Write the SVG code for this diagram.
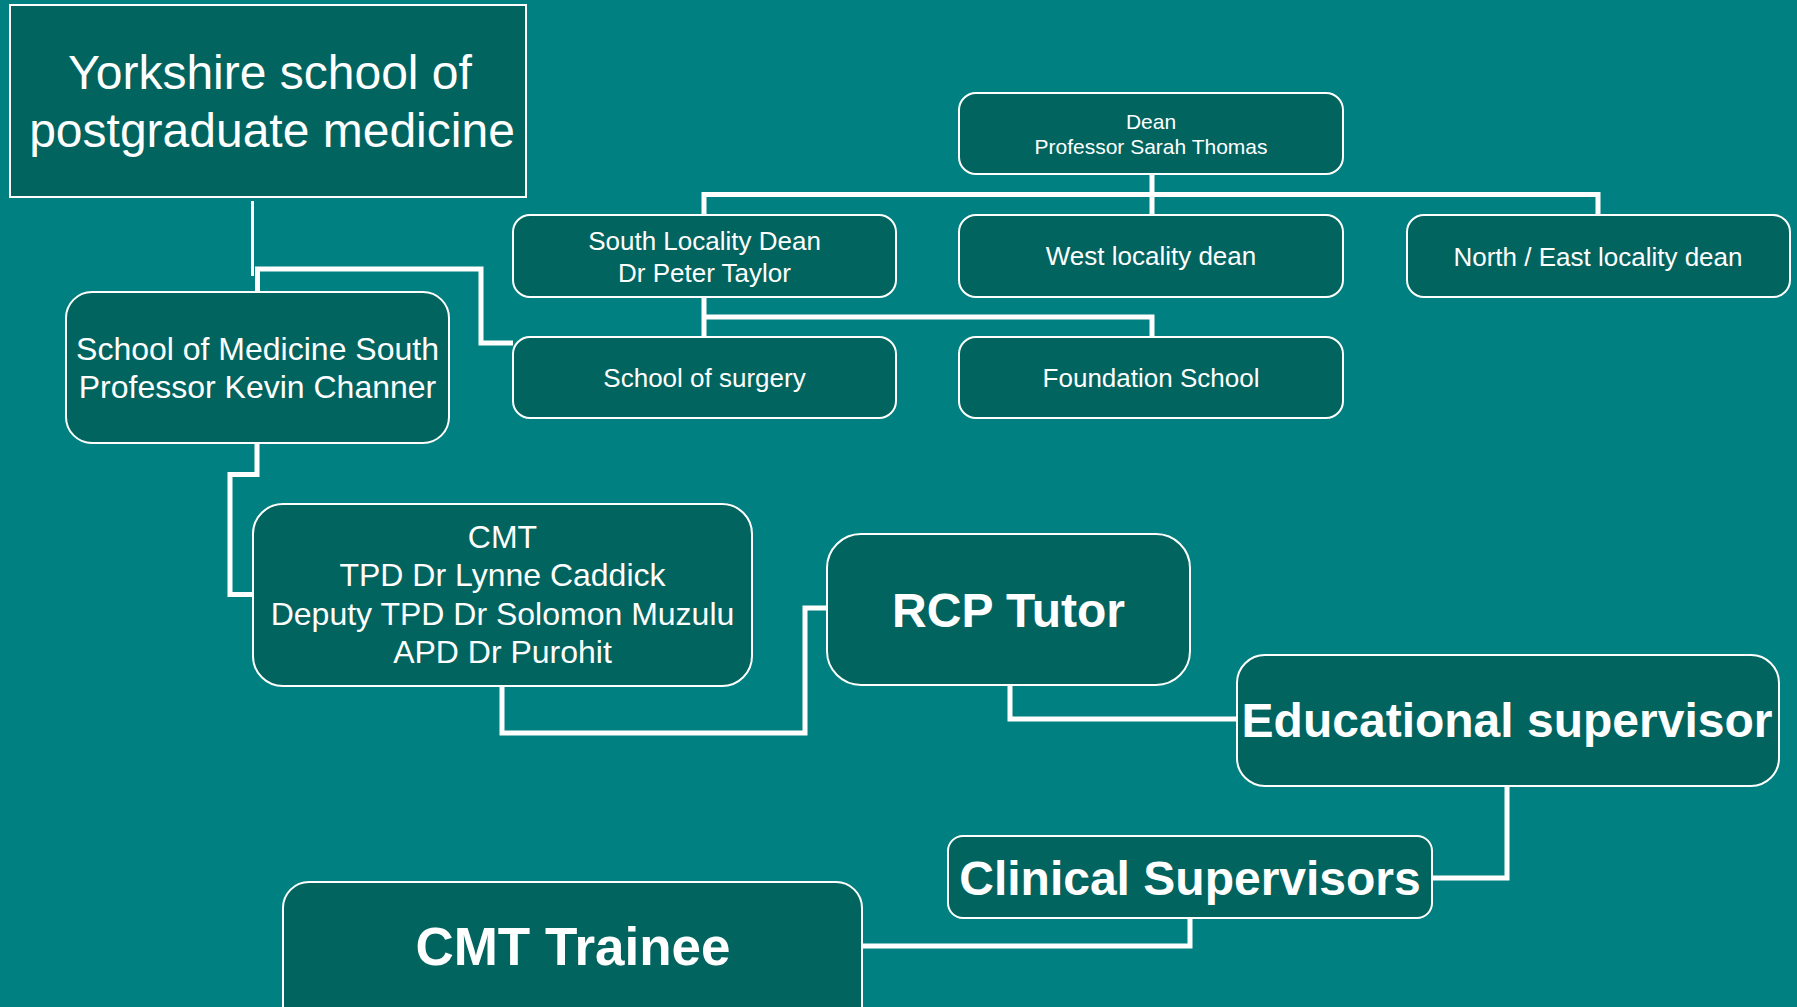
<svg xmlns="http://www.w3.org/2000/svg" width="1797" height="1007" viewBox="0 0 1797 1007">
<style>
.bg{fill:#008080}
.box{fill:#02645f;stroke:#ffffff;stroke-width:2}
.t{font-family:"Liberation Sans",Arial,sans-serif;fill:#ffffff;text-anchor:middle}
.b{font-weight:bold}
.c{fill:none;stroke:#ffffff;stroke-width:5}
</style>
<rect class="bg" x="0" y="0" width="1797" height="1007"/>
<g id="connectors">
<path d="M252.5 201V276" fill="none" stroke="#ffffff" stroke-width="3"/>
<path class="c" d="M257.5 292V269H481V343H513"/>
<path class="c" d="M1152 174V215M704 215V194.5H1598V214"/>
<path class="c" d="M704 297V337M704 317H1152V337"/>
<path class="c" d="M257 443V474.5H230V594.5H253"/>
<path class="c" d="M502 686V733H805V608H827"/>
<path class="c" d="M1010 685V719H1237"/>
<path class="c" d="M1507 786V878H1432"/>
<path class="c" d="M1190 918V946H862"/>
</g>
<g id="yorkshire">
<rect class="box" x="10" y="5" width="516" height="192"/>
<text class="t" x="270" y="89" font-size="48">Yorkshire school of</text>
<text class="t" x="272" y="147" font-size="48">postgraduate medicine</text>
</g>
<g id="dean">
<rect class="box" x="959" y="93" width="384" height="81" rx="17"/>
<text class="t" x="1151" y="129" font-size="21">Dean</text>
<text class="t" x="1151" y="154" font-size="21">Professor Sarah Thomas</text>
</g>
<g id="south-dean">
<rect class="box" x="513" y="215" width="383" height="82" rx="17"/>
<text class="t" x="704.5" y="250" font-size="26">South Locality Dean</text>
<text class="t" x="704.5" y="282" font-size="26">Dr Peter Taylor</text>
</g>
<g id="west-dean">
<rect class="box" x="959" y="215" width="384" height="82" rx="17"/>
<text class="t" x="1151" y="265" font-size="26">West locality dean</text>
</g>
<g id="north-east-dean">
<rect class="box" x="1407" y="215" width="383" height="82" rx="17"/>
<text class="t" x="1598" y="266" font-size="26">North / East locality dean</text>
</g>
<g id="school-surgery">
<rect class="box" x="513" y="337" width="383" height="81" rx="17"/>
<text class="t" x="704.5" y="387" font-size="26">School of surgery</text>
</g>
<g id="foundation-school">
<rect class="box" x="959" y="337" width="384" height="81" rx="17"/>
<text class="t" x="1151" y="387" font-size="26">Foundation School</text>
</g>
<g id="medicine-south">
<rect class="box" x="66" y="292" width="383" height="151" rx="26"/>
<text class="t" x="257.5" y="360" font-size="32">School of Medicine South</text>
<text class="t" x="257.5" y="398" font-size="32">Professor Kevin Channer</text>
</g>
<g id="cmt">
<rect class="box" x="253" y="504" width="499" height="182" rx="30"/>
<text class="t" x="502.5" y="548" font-size="32">CMT</text>
<text class="t" x="502.5" y="586" font-size="32">TPD Dr Lynne Caddick</text>
<text class="t" x="502.5" y="625" font-size="32">Deputy TPD Dr Solomon Muzulu</text>
<text class="t" x="502.5" y="663" font-size="32">APD Dr Purohit</text>
</g>
<g id="rcp-tutor">
<rect class="box" x="827" y="534" width="363" height="151" rx="34"/>
<text class="t b" x="1008.5" y="627" font-size="48">RCP Tutor</text>
</g>
<g id="educational-supervisor">
<rect class="box" x="1237" y="655" width="542" height="131" rx="28"/>
<text class="t b" x="1507" y="737" font-size="48">Educational supervisor</text>
</g>
<g id="clinical-supervisors">
<rect class="box" x="948" y="836" width="484" height="82" rx="15"/>
<text class="t b" x="1190" y="895" font-size="48">Clinical Supervisors</text>
</g>
<g id="cmt-trainee">
<rect class="box" x="283" y="882" width="579" height="150" rx="26"/>
<text class="t b" x="573" y="965" font-size="53">CMT Trainee</text>
</g>
</svg>
